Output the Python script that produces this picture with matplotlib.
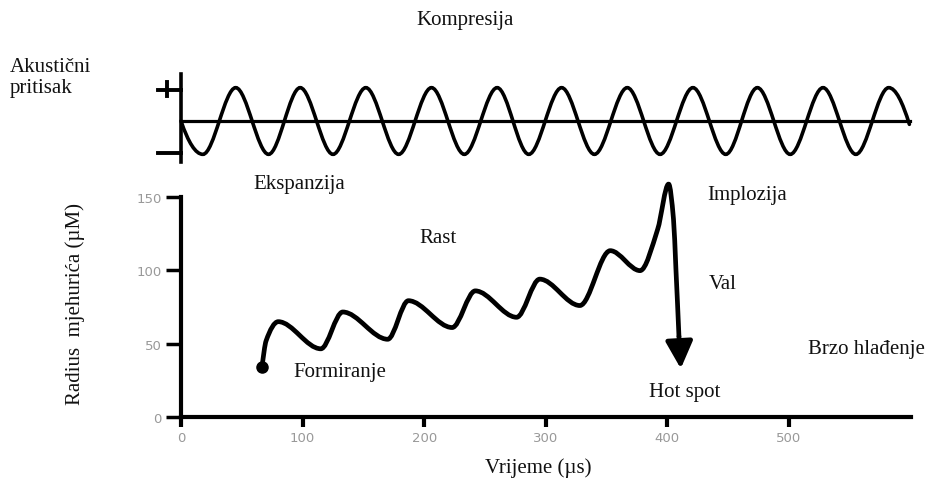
import numpy as np
import matplotlib
matplotlib.use("Agg")
import matplotlib.pyplot as plt
from matplotlib.path import Path
from matplotlib.patches import PathPatch

# Radijus mjehurića (očitano sa slike): vrijeme (µs) i radijus (µM)
t_radius = [66.6, 70, 80, 115, 133, 170, 187, 223, 242, 276, 295, 328, 353,
            377.5, 392, 401, 405, 407, 409.5]
radius = [34, 52, 65, 46.5, 71.6, 53, 79.3, 61, 86, 68, 94, 76, 113.4,
          99.8, 128, 158.8, 135, 101, 55]
arrow_tip = (411, 33)

# Akustični tlak: ekstremi vala (µs) i vrijednosti (+1 / -1)
wave_x = [0, 18, 45, 72, 98, 125, 152, 179, 206, 233, 260, 286, 313, 340, 367,
          394, 421, 448, 474, 501, 528, 555, 582, 599]
wave_y = [0, -1, 1, -1, 1, -1, 1, -1, 1, -1, 1, -1, 1, -1, 1,
          -1, 1, -1, 1, -1, 1, -1, 1, -0.1]

x_ticks = [0, 100, 200, 300, 400, 500]
y_ticks = [0, 50, 100, 150]

labels = {
    "Ekspanzija": (97, 159),
    "Rast": (211, 122.7),
    "Formiranje": (131, 30.7),
    "Implozija": (465.5, 152),
    "Val": (445.7, 90.7),
    "Brzo hlađenje": (564, 46.4),
    "Hot spot": (414.5, 17.7),
}

serif = "Liberation Serif"
txt_col = "#111111"


def smooth_path(xs, ys):
    # PCHIP nagibi (0 u ekstremima), krivulja kao Bezier segmenti
    x = np.asarray(xs, float)
    y = np.asarray(ys, float)
    h = np.diff(x)
    d = np.diff(y) / h
    m = np.zeros_like(x)
    for i in range(1, len(x) - 1):
        if d[i - 1] * d[i] > 0:
            w1 = 2 * h[i] + h[i - 1]
            w2 = h[i] + 2 * h[i - 1]
            m[i] = (w1 + w2) / (w1 / d[i - 1] + w2 / d[i])
    m[0] = ((2 * h[0] + h[1]) * d[0] - h[0] * d[1]) / (h[0] + h[1])
    m[-1] = ((2 * h[-1] + h[-2]) * d[-1] - h[-1] * d[-2]) / (h[-1] + h[-2])
    verts = [(x[0], y[0])]
    codes = [Path.MOVETO]
    for i in range(len(x) - 1):
        s = h[i] / 3
        verts += [(x[i] + s, y[i] + m[i] * s), (x[i + 1] - s, y[i + 1] - m[i + 1] * s),
                  (x[i + 1], y[i + 1])]
        codes += [Path.CURVE4] * 3
    return Path(verts, codes)


fig = plt.figure(figsize=(9.31, 4.85), dpi=100)
W, H = 931, 485

# --- gornji panel: akustični tlak
ax_top = fig.add_axes([181 / W, 1 - 172 / H, 729.6 / W, 100 / H])
ax_top.set_xlim(0, 600)
ax_top.set_ylim(-1.5, 1.5)
ax_top.axis("off")
ax_top.add_patch(PathPatch(smooth_path(wave_x, wave_y), fill=False, lw=2.6,
                           color="black", capstyle="round", clip_on=False))
ax_top.plot([0, 599.5], [0, 0], color="black", lw=2.3, clip_on=False)
ax_top.plot([0, 0], [-1.23, 1.41], color="black", lw=2.6, clip_on=False)
ax_top.plot([-19, 0], [0.93, 0.93], color="black", lw=2.8, clip_on=False)
ax_top.plot([-11.5, -11.5], [0.75, 1.17], color="black", lw=2.8, clip_on=False)
ax_top.plot([-19, 0], [-0.96, -0.96], color="black", lw=2.8, clip_on=False)

# --- donji panel: radijus mjehurića
ax = fig.add_axes([181 / W, 67 / H, 729.6 / W, 242 / H])
ax.set_xlim(0, 600)
ax.set_ylim(0, 165)
for s in ["top", "right"]:
    ax.spines[s].set_visible(False)
for s in ["left", "bottom"]:
    ax.spines[s].set_linewidth(3)
ax.spines["left"].set_bounds(0, 150)
ax.set_xticks(x_ticks)
ax.set_yticks(y_ticks)
ax.tick_params(axis="x", length=7, width=3, pad=3, labelsize=9.5, labelcolor="#999999")
ax.tick_params(axis="y", length=11, width=2.5, pad=3, labelsize=9.5, labelcolor="#999999")

ax.add_patch(PathPatch(smooth_path(t_radius, radius), fill=False, lw=3.4,
                       color="black", capstyle="round", joinstyle="round", clip_on=False))
ax.plot(t_radius[0], radius[0], "o", color="black", ms=8, clip_on=False)
ax.annotate("", xy=arrow_tip, xytext=(t_radius[-1], radius[-1]),
            arrowprops=dict(arrowstyle="-|>,head_length=1.1,head_width=0.55",
                            mutation_scale=15, lw=3.4, color="black",
                            shrinkA=0, shrinkB=0), annotation_clip=False)

for text, (x, y) in labels.items():
    ax.text(x, y, text, ha="center", va="center", fontsize=15, family=serif,
            color=txt_col, clip_on=False)

fig.text(465 / W, 1 - 20 / H, "Kompresija", ha="center", va="center",
         fontsize=15, family=serif, color=txt_col)
fig.text(10 / W, 1 - 78 / H, "Akustični\npritisak", ha="left", va="center",
         fontsize=15, family=serif, color=txt_col)
fig.text(75 / W, 1 - 304 / H, "Radius  mjehurića (µM)", ha="center", va="center",
         rotation=90, fontsize=15, family=serif, color=txt_col)
fig.text(538 / W, 1 - 468 / H, "Vrijeme (µs)", ha="center", va="center",
         fontsize=15, family=serif, color=txt_col)

fig.savefig("out.png", dpi=100)
